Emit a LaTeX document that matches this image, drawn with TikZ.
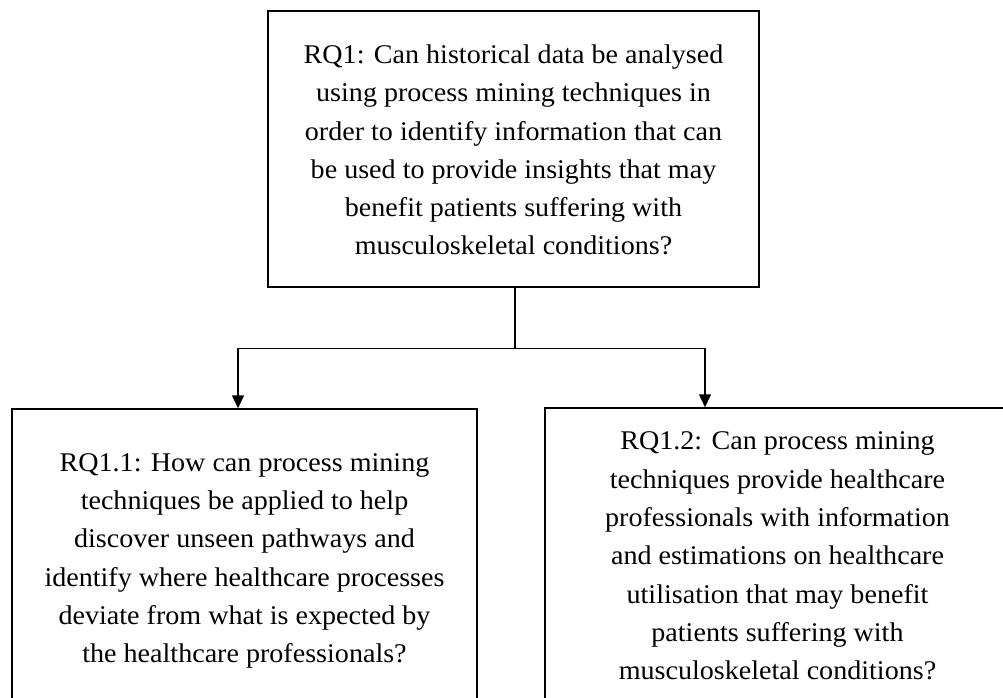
\documentclass[tikz,border=0pt]{standalone}
\usepackage{fontspec}
\setmainfont[FakeStretch=1.04]{Liberation Serif}
\usetikzlibrary{arrows.meta,calc}
\begin{document}
\begin{tikzpicture}[x=1pt,y=-1pt,
  rqbox/.style={draw, line width=1.4pt, rectangle, inner sep=0pt},
  rqtext/.style={align=center, font=\fontsize{27}{38.3}\selectfont, inner sep=0pt},
  link/.style={line width=1.4pt},
  arr/.style={link, -{Triangle[width=12pt,length=13pt]}}]
\clip (0,0) rectangle (1003,698);
\useasboundingbox (0,0) rectangle (1003,698);

% main research question
\node[rqbox, minimum width=491pt, minimum height=276pt] (rq1) at (513.5,149) {};
\node[rqtext] (rq1text) at ([yshift=-1pt]rq1.center)
  {RQ1: Can historical data be analysed\\
   using process mining techniques in\\
   order to identify information that can\\
   be used to provide insights that may\\
   benefit patients suffering with\\
   musculoskeletal conditions?};

% sub-questions
\node[rqbox, minimum width=465pt, minimum height=298pt] (rq11) at (244.5,558) {};
\node[rqtext] (rq11text) at ([yshift=-3pt]rq11.center)
  {RQ1.1: How can process mining\\
   techniques be applied to help\\
   discover unseen pathways and\\
   identify where healthcare processes\\
   deviate from what is expected by\\
   the healthcare professionals?};

\node[rqbox, minimum width=465pt, minimum height=302pt] (rq12) at (777.5,559) {};
\node[rqtext] (rq12text) at ([yshift=3pt]rq12.center)
  {RQ1.2: Can process mining\\
   techniques provide healthcare\\
   professionals with information\\
   and estimations on healthcare\\
   utilisation that may benefit\\
   patients suffering with\\
   musculoskeletal conditions?};

% connectors
\coordinate (fork) at ($([xshift=1.5pt]rq1.south)+(0,61)$);
\draw[link] ([xshift=1.5pt]rq1.south) -- (fork);
\draw[arr] (fork) -| ([xshift=-6.5pt]rq11.north);
\draw[arr] (fork) -| ([xshift=-72.5pt]rq12.north);
\end{tikzpicture}
\end{document}
